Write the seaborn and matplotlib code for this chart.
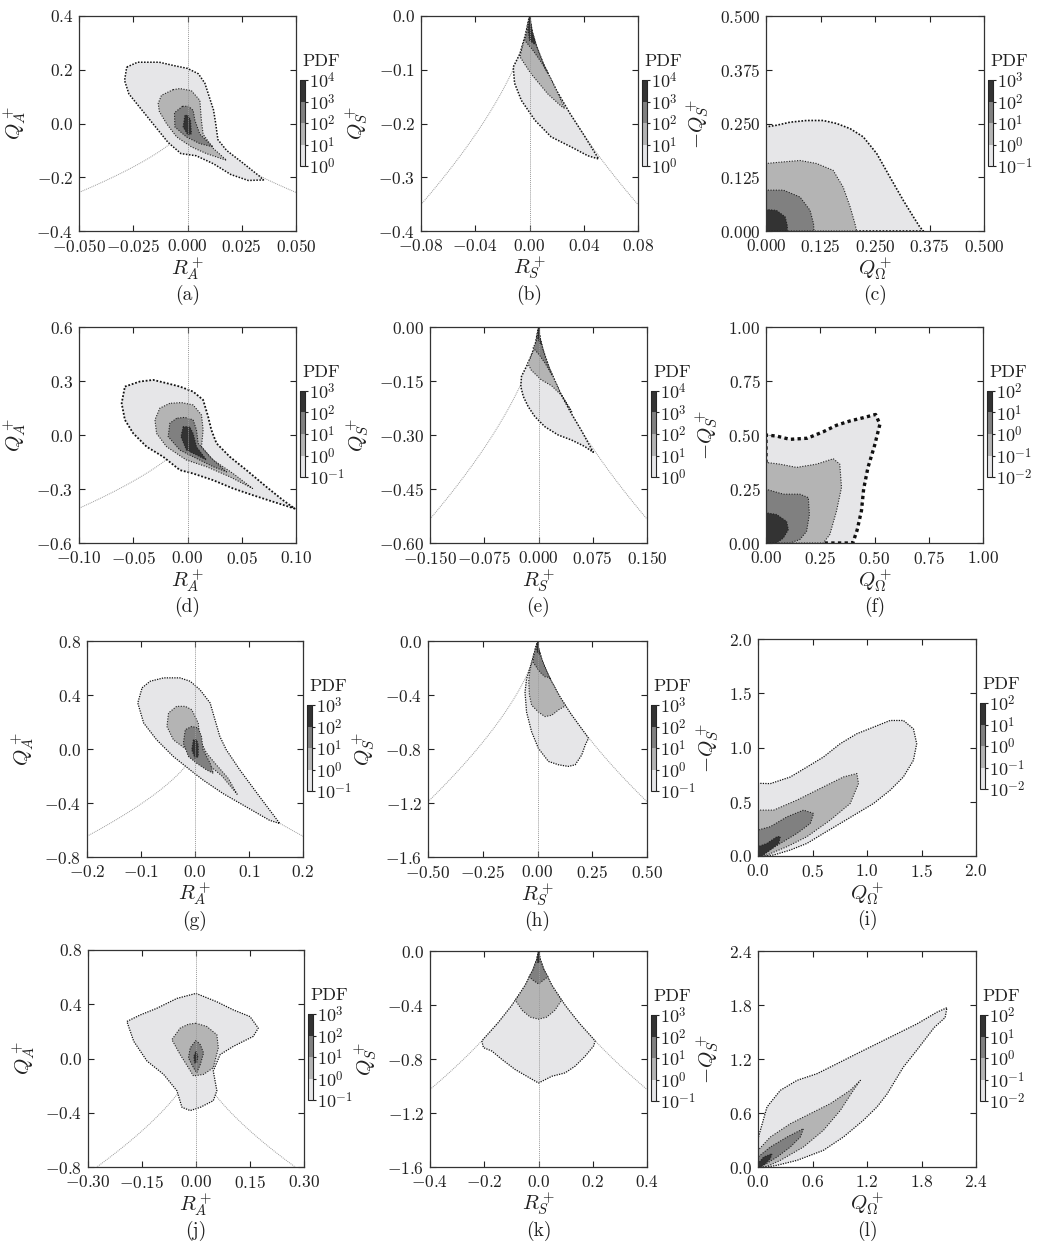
import numpy as np
import matplotlib
matplotlib.use("Agg")
import matplotlib.pyplot as plt
from matplotlib.colors import ListedColormap, BoundaryNorm
from matplotlib.cm import ScalarMappable
import seaborn as sns

# ---- contour outlines: (x, y) vertices, one list per PDF band ----
# (a) Q_A - R_A, bands 10^0..10^4
a_b1 = [(-0.028, 0.21), (-0.023, 0.228), (-0.013, 0.228), (-0.006, 0.215), (0.0, 0.205), (0.005, 0.185),
        (0.008, 0.15), (0.010, 0.10), (0.012, 0.05), (0.013, 0.0), (0.014, -0.06), (0.018, -0.10),
        (0.026, -0.15), (0.033, -0.195), (0.035, -0.21), (0.028, -0.212), (0.020, -0.19), (0.012, -0.15),
        (0.004, -0.12), (-0.003, -0.112), (-0.009, -0.07), (-0.016, 0.0), (-0.022, 0.06), (-0.027, 0.11),
        (-0.029, 0.16)]
a_b2 = [(-0.0066, 0.126), (-0.012, 0.105), (-0.0135, 0.075), (-0.013, 0.045), (-0.0097, 0.0), (-0.005, -0.05),
        (0.0018, -0.087), (0.0087, -0.112), (0.018, -0.137), (0.0118, -0.092), (0.0072, -0.04), (0.0064, 0.012),
        (0.0057, 0.086), (0.0018, 0.122), (-0.0035, 0.13)]
a_b3 = [(-0.0023, 0.064), (-0.006, 0.04), (-0.0058, -0.013), (-0.0005, -0.05), (0.0057, -0.075), (0.0118, -0.087),
        (0.0057, -0.04), (0.0034, 0.012), (0.0026, 0.049), (0.0005, 0.064)]
a_b4 = [(-0.0012, 0.03), (-0.002, -0.013), (0.0003, -0.044), (0.0018, -0.038), (0.0014, 0.012), (0.0003, 0.03)]

# (b) Q_S - R_S
b_b1 = [(0.0, 0.0), (-0.003, -0.035), (-0.007, -0.07), (-0.012, -0.095), (-0.011, -0.125), (-0.006, -0.157),
        (0.004, -0.194), (0.016, -0.225), (0.031, -0.244), (0.043, -0.26), (0.051, -0.266), (0.040, -0.221),
        (0.030, -0.182), (0.020, -0.139), (0.010, -0.088), (0.005, -0.055), (0.002, -0.03)]
b_b2 = [(0.0, 0.0), (-0.003, -0.035), (-0.006, -0.065), (-0.007, -0.076), (0.001, -0.107), (0.0135, -0.145),
        (0.0235, -0.168), (0.026, -0.172), (0.020, -0.139), (0.010, -0.088), (0.005, -0.055), (0.002, -0.03)]
b_b3 = [(0.0, 0.0), (-0.002, -0.03), (-0.0036, -0.045), (0.0026, -0.064), (0.0087, -0.086), (0.0136, -0.107),
        (0.010, -0.088), (0.005, -0.055), (0.002, -0.03)]
b_b4 = [(0.0, 0.0), (-0.001, -0.025), (0.0, -0.045), (0.004, -0.053), (0.004, -0.048), (0.002, -0.03),
        (0.0005, -0.01)]

# (c) -Q_S - Q_W
c_b1 = [(0, 0), (0, 0.242), (0.0245, 0.246), (0.055, 0.253), (0.093, 0.257), (0.131, 0.257), (0.162, 0.25),
        (0.193, 0.238), (0.223, 0.219), (0.254, 0.18), (0.284, 0.126), (0.315, 0.071), (0.338, 0.033),
        (0.353, 0.009), (0.361, 0)]
c_b2 = [(0, 0), (0, 0.157), (0.032, 0.16), (0.078, 0.164), (0.116, 0.157), (0.154, 0.141), (0.177, 0.102),
        (0.193, 0.056), (0.204, 0.017), (0.208, 0)]
c_b3 = [(0, 0), (0, 0.095), (0.04, 0.095), (0.078, 0.079), (0.101, 0.048), (0.109, 0.017), (0.11, 0)]
c_b4 = [(0, 0), (0, 0.05), (0.024, 0.048), (0.044, 0.033), (0.049, 0.012), (0.049, 0)]

# (d)
d_b1 = [(-0.0577, 0.269), (-0.044, 0.297), (-0.0316, 0.306), (-0.0193, 0.288), (-0.007, 0.269), (0.0052, 0.241),
        (0.0144, 0.195), (0.019, 0.102), (0.022, 0.028), (0.0267, -0.046), (0.039, -0.121), (0.0543, -0.195),
        (0.0727, -0.288), (0.088, -0.362), (0.0988, -0.409), (0.079, -0.371), (0.06, -0.334), (0.042, -0.297),
        (0.0236, -0.251), (0.0052, -0.214), (-0.007, -0.195), (-0.0224, -0.121), (-0.0377, -0.065),
        (-0.05, 0.009), (-0.0577, 0.084), (-0.0607, 0.176)]
d_b2 = [(-0.0163, 0.176), (-0.0255, 0.149), (-0.03, 0.084), (-0.0285, 0.009), (-0.0193, -0.065), (-0.001, -0.139),
        (0.0175, -0.176), (0.039, -0.232), (0.06, -0.297), (0.042, -0.214), (0.0236, -0.139), (0.0129, -0.065),
        (0.0144, 0.028), (0.0129, 0.111), (0.0052, 0.167), (-0.0055, 0.18)]
d_b3 = [(-0.01, 0.093), (-0.0163, 0.065), (-0.0178, -0.009), (-0.007, -0.084), (0.0113, -0.139), (0.0236, -0.176),
        (0.036, -0.205), (0.0205, -0.121), (0.0098, -0.046), (0.0083, 0.028), (0.0052, 0.084), (-0.0025, 0.098)]
d_b4 = [(-0.004, 0.046), (-0.006, -0.009), (-0.001, -0.084), (0.0083, -0.111), (0.0175, -0.139), (0.0083, -0.065),
        (0.0052, 0.009), (0.002, 0.046)]

# (e)
e_b1 = [(0, 0), (-0.005, -0.054), (-0.0143, -0.1), (-0.0235, -0.137), (-0.0245, -0.165), (-0.021, -0.193),
        (-0.0143, -0.221), (-0.005, -0.249), (0.0088, -0.277), (0.0272, -0.3), (0.0457, -0.314), (0.064, -0.332),
        (0.0757, -0.348), (0.06, -0.29), (0.045, -0.239), (0.03, -0.1825), (0.015, -0.115), (0.006, -0.062),
        (0.002, -0.03)]
e_b2 = [(0, 0), (-0.004, -0.05), (-0.012, -0.09), (-0.015, -0.1), (-0.01, -0.12), (0.004, -0.147), (0.018, -0.163),
        (0.032, -0.19), (0.046, -0.235), (0.03, -0.1825), (0.015, -0.115), (0.006, -0.062), (0.002, -0.03)]
e_b3 = [(0, 0), (-0.003, -0.04), (-0.0075, -0.058), (0.0, -0.075), (0.009, -0.1), (0.019, -0.135), (0.012, -0.1),
        (0.006, -0.062), (0.002, -0.03)]
e_b4 = [(0, 0), (-0.001, -0.03), (0.002, -0.045), (0.004, -0.048), (0.002, -0.03)]

# (f)
f_b1 = [(0, 0), (0, 0.5), (0.049, 0.495), (0.11, 0.48), (0.19, 0.485), (0.264, 0.515), (0.325, 0.545),
        (0.387, 0.565), (0.448, 0.58), (0.505, 0.595), (0.525, 0.55), (0.5, 0.45), (0.47, 0.35), (0.45, 0.25),
        (0.44, 0.15), (0.42, 0.06), (0.4, 0)]
f_b2 = [(0, 0), (0, 0.373), (0.064, 0.365), (0.141, 0.35), (0.233, 0.365), (0.31, 0.39), (0.34, 0.365),
        (0.348, 0.257), (0.325, 0.148), (0.294, 0.039), (0.264, 0)]
f_b3 = [(0, 0), (0, 0.249), (0.08, 0.226), (0.156, 0.226), (0.195, 0.21), (0.2, 0.132), (0.187, 0.054),
        (0.156, 0.016), (0.11, 0)]
f_b4 = [(0, 0), (0, 0.14), (0.049, 0.132), (0.095, 0.1), (0.103, 0.062), (0.08, 0.023), (0.049, 0)]

# (g)
g_b1 = [(-0.098, 0.453), (-0.083, 0.502), (-0.058, 0.527), (-0.028, 0.527), (-0.009, 0.502), (0.009, 0.44),
        (0.028, 0.341), (0.037, 0.217), (0.046, 0.093), (0.058, -0.006), (0.083, -0.155), (0.12, -0.355),
        (0.157, -0.552), (0.138, -0.528), (0.095, -0.429), (0.052, -0.33), (0.015, -0.23), (-0.009, -0.155),
        (-0.04, -0.056), (-0.071, 0.068), (-0.095, 0.192), (-0.106, 0.341)]
g_b2 = [(-0.034, 0.316), (-0.049, 0.267), (-0.052, 0.167), (-0.04, 0.068), (-0.015, -0.006), (0.0215, -0.105),
        (0.05, -0.2), (0.078, -0.335), (0.062, -0.22), (0.038, -0.11), (0.0215, -0.031), (0.009, 0.068),
        (0.006, 0.192), (-0.006, 0.291), (-0.018, 0.316)]
g_b3 = [(-0.006, 0.167), (-0.018, 0.143), (-0.0215, 0.043), (-0.012, -0.056), (0.003, -0.105), (0.0215, -0.155),
        (0.034, -0.18), (0.028, -0.105), (0.015, -0.006), (0.012, 0.093), (0.006, 0.155)]
g_b4 = [(-0.003, 0.068), (-0.006, -0.006), (0.0, -0.068), (0.006, -0.056), (0.006, 0.031), (0.003, 0.068)]

# (h)
h_b1 = [(0, 0), (-0.027, -0.159), (-0.05, -0.28), (-0.057, -0.38), (-0.05, -0.526), (-0.027, -0.672),
        (0.004, -0.795), (0.05, -0.892), (0.096, -0.917), (0.141, -0.929), (0.172, -0.917), (0.202, -0.844),
        (0.218, -0.77), (0.233, -0.72), (0.2, -0.646), (0.15, -0.534), (0.1, -0.407), (0.05, -0.257),
        (0.02, -0.139), (0.005, -0.055)]
h_b2 = [(0, 0), (-0.02, -0.12), (-0.035, -0.22), (-0.04, -0.3), (-0.037, -0.4), (-0.027, -0.475), (0.004, -0.526),
        (0.034, -0.56), (0.065, -0.55), (0.096, -0.51), (0.128, -0.48), (0.1, -0.407), (0.05, -0.257),
        (0.02, -0.139), (0.005, -0.055)]
h_b3 = [(0, 0), (-0.01, -0.06), (-0.018, -0.12), (-0.019, -0.16), (0.011, -0.23), (0.034, -0.265), (0.055, -0.27),
        (0.06, -0.285), (0.03, -0.1825), (0.01, -0.088), (0.003, -0.04)]
h_b4 = [(0, 0), (-0.004, -0.04), (-0.002, -0.08), (0.008, -0.1), (0.01, -0.088), (0.004, -0.05)]

# (i)
i_b1 = [(0, 0), (0, 0.67), (0.113, 0.667), (0.296, 0.728), (0.449, 0.82), (0.6, 0.912), (0.754, 1.035),
        (0.907, 1.127), (1.06, 1.188), (1.212, 1.249), (1.334, 1.249), (1.426, 1.172), (1.456, 1.035),
        (1.426, 0.882), (1.334, 0.729), (1.212, 0.606), (1.06, 0.484), (0.907, 0.392), (0.754, 0.3),
        (0.6, 0.208), (0.449, 0.116), (0.296, 0.055), (0.144, 0.009), (0.052, 0)]
i_b2 = [(0, 0), (0, 0.423), (0.144, 0.423), (0.357, 0.515), (0.6, 0.637), (0.785, 0.729), (0.907, 0.76),
        (0.922, 0.668), (0.846, 0.484), (0.663, 0.331), (0.449, 0.178), (0.266, 0.086), (0.082, 0.009)]
i_b3 = [(0, 0), (0, 0.239), (0.113, 0.27), (0.266, 0.361), (0.418, 0.423), (0.51, 0.392), (0.48, 0.3),
        (0.357, 0.208), (0.205, 0.116), (0.082, 0.04), (0.02, 0)]
i_b4 = [(0, 0), (0, 0.086), (0.082, 0.116), (0.174, 0.178), (0.205, 0.178), (0.19, 0.116), (0.113, 0.055),
        (0.037, 0)]

# (j)
j_b1 = [(0, 0.48), (0.058, 0.418), (0.104, 0.358), (0.15, 0.309), (0.173, 0.224), (0.159, 0.163), (0.104, 0.09),
        (0.067, 0.029), (0.048, -0.092), (0.058, -0.238), (0.048, -0.311), (0.012, -0.36), (-0.016, -0.384),
        (-0.039, -0.36), (-0.053, -0.238), (-0.09, -0.117), (-0.136, -0.019), (-0.173, 0.127), (-0.192, 0.273),
        (-0.155, 0.321), (-0.109, 0.37), (-0.053, 0.443)]
j_b2 = [(0, 0.26), (0.03, 0.236), (0.058, 0.175), (0.062, 0.078), (0.048, -0.068), (0.021, -0.117),
        (-0.007, -0.129), (-0.021, -0.068), (-0.044, 0.029), (-0.067, 0.139), (-0.044, 0.224), (-0.021, 0.253)]
j_b3 = [(0, 0.134), (0.012, 0.102), (0.021, 0.041), (0.012, -0.044), (0.002, -0.105), (-0.007, -0.068),
        (-0.021, 0.005), (-0.016, 0.078)]
j_b4 = [(0, 0.054), (0.005, 0.017), (0.002, -0.032), (-0.004, -0.032), (-0.006, 0.017)]

# (k)
k_b1 = [(0, 0), (0.005, -0.055), (0.02, -0.139), (0.05, -0.257), (0.1, -0.407), (0.15, -0.534), (0.209, -0.666),
        (0.203, -0.704), (0.172, -0.779), (0.135, -0.853), (0.098, -0.903), (0.049, -0.928), (0.0, -0.978),
        (-0.043, -0.928), (-0.086, -0.878), (-0.135, -0.803), (-0.172, -0.741), (-0.203, -0.716),
        (-0.209, -0.666), (-0.15, -0.534), (-0.1, -0.407), (-0.05, -0.257), (-0.02, -0.139), (-0.005, -0.055)]
k_b2 = [(0, 0), (0.005, -0.055), (0.02, -0.139), (0.05, -0.257), (0.085, -0.365), (0.06, -0.44), (0.03, -0.49),
        (0.0, -0.505), (-0.03, -0.49), (-0.06, -0.44), (-0.085, -0.365), (-0.05, -0.257), (-0.02, -0.139),
        (-0.005, -0.055)]
k_b3 = [(0, 0), (0.005, -0.055), (0.02, -0.139), (0.035, -0.19), (0.022, -0.21), (0.0, -0.244), (-0.018, -0.22),
        (-0.035, -0.19), (-0.02, -0.139), (-0.005, -0.055)]
k_b4 = [(0, 0), (0.005, -0.045), (0.004, -0.08), (0.0, -0.09), (-0.004, -0.08), (-0.005, -0.045)]

# (l)
l_b1 = [(0, 0), (0, 0.315), (0.099, 0.667), (0.246, 0.852), (0.43, 0.963), (0.65, 1.037), (0.87, 1.148),
        (1.09, 1.26), (1.31, 1.37), (1.53, 1.48), (1.75, 1.59), (1.97, 1.72), (2.08, 1.77), (2.06, 1.66),
        (1.94, 1.55), (1.75, 1.3), (1.6, 1.11), (1.42, 0.81), (1.31, 0.667), (1.16, 0.519), (0.94, 0.333),
        (0.72, 0.185), (0.43, 0.074), (0.21, 0.019), (0.1, 0)]
l_b2 = [(0, 0), (0, 0.185), (0.136, 0.333), (0.356, 0.481), (0.576, 0.593), (0.796, 0.704), (1.016, 0.852),
        (1.127, 0.963), (1.05, 0.852), (0.907, 0.63), (0.72, 0.407), (0.5, 0.222), (0.246, 0.074), (0.1, 0.007)]
l_b3 = [(0, 0), (0, 0.111), (0.136, 0.222), (0.32, 0.333), (0.5, 0.426), (0.466, 0.333), (0.356, 0.222),
        (0.21, 0.111), (0.062, 0.019)]
l_b4 = [(0, 0), (0, 0.037), (0.062, 0.111), (0.154, 0.148), (0.136, 0.093), (0.081, 0.037), (0.026, 0)]

# ---- axis ticks and colorbar exponents ----
a_xticks = [-0.05, -0.025, 0.0, 0.025, 0.05]
a_yticks = [-0.4, -0.2, 0.0, 0.2, 0.4]
b_xticks = [-0.08, -0.04, 0.0, 0.04, 0.08]
b_yticks = [-0.4, -0.3, -0.2, -0.1, 0.0]
c_ticks = [0.0, 0.125, 0.25, 0.375, 0.5]
d_xticks = [-0.1, -0.05, 0.0, 0.05, 0.1]
d_yticks = [-0.6, -0.3, 0.0, 0.3, 0.6]
e_xticks = [-0.15, -0.075, 0.0, 0.075, 0.15]
e_yticks = [-0.6, -0.45, -0.3, -0.15, 0.0]
f_ticks = [0.0, 0.25, 0.5, 0.75, 1.0]
g_xticks = [-0.2, -0.1, 0.0, 0.1, 0.2]
g_yticks = [-0.8, -0.4, 0.0, 0.4, 0.8]
h_xticks = [-0.5, -0.25, 0.0, 0.25, 0.5]
h_yticks = [-1.6, -1.2, -0.8, -0.4, 0.0]
i_ticks = [0.0, 0.5, 1.0, 1.5, 2.0]
j_xticks = [-0.3, -0.15, 0.0, 0.15, 0.3]
j_yticks = [-0.8, -0.4, 0.0, 0.4, 0.8]
k_xticks = [-0.4, -0.2, 0.0, 0.2, 0.4]
k_yticks = [-1.6, -1.2, -0.8, -0.4, 0.0]
l_ticks = [0.0, 0.6, 1.2, 1.8, 2.4]

pdf_lowest_exp = {'a': 0, 'b': 0, 'c': -1, 'd': -1, 'e': 0, 'f': -2,
                  'g': -1, 'h': -1, 'i': -2, 'j': -1, 'k': -1, 'l': -2}

band_colors = ['#e6e6e8', '#b4b4b4', '#808080', '#333333']

labels = {
    'A': (r'$R_A^+$', r'$Q_A^+$'),
    'S': (r'$R_S^+$', r'$Q_S^+$'),
    'W': (r'$Q_\Omega^+$', r'$-Q_S^+$'),
}

# width of the (noisy) outermost contour edge in each panel
edge_lw = {'a': 1.1, 'b': 1.1, 'c': 1.2, 'd': 1.3, 'e': 1.1, 'f': 2.4,
           'g': 0.9, 'h': 0.9, 'i': 0.9, 'j': 0.9, 'k': 0.9, 'l': 0.9}

# tag, kind, bands, xticks, yticks, x decimals, y decimals, pixel box (l, t, r, b)
panels = [
    ('a', 'A', [a_b1, a_b2, a_b3, a_b4], a_xticks, a_yticks, 3, 1, (79, 16, 296, 231)),
    ('b', 'S', [b_b1, b_b2, b_b3, b_b4], b_xticks, b_yticks, 2, 1, (421, 16, 638, 231)),
    ('c', 'W', [c_b1, c_b2, c_b3, c_b4], c_ticks, c_ticks, 3, 3, (766, 16, 984, 231)),
    ('d', 'A', [d_b1, d_b2, d_b3, d_b4], d_xticks, d_yticks, 2, 1, (79, 327, 296, 543)),
    ('e', 'S', [e_b1, e_b2, e_b3, e_b4], e_xticks, e_yticks, 3, 2, (430, 327, 647, 543)),
    ('f', 'W', [f_b1, f_b2, f_b3, f_b4], f_ticks, f_ticks, 2, 2, (766, 327, 983, 543)),
    ('g', 'A', [g_b1, g_b2, g_b3, g_b4], g_xticks, g_yticks, 1, 1, (87, 641, 303, 857)),
    ('h', 'S', [h_b1, h_b2, h_b3, h_b4], h_xticks, h_yticks, 2, 1, (428, 641, 647, 857)),
    ('i', 'W', [i_b1, i_b2, i_b3, i_b4], i_ticks, i_ticks, 1, 1, (758, 639, 976, 856)),
    ('j', 'A', [j_b1, j_b2, j_b3, j_b4], j_xticks, j_yticks, 2, 1, (88, 950, 304, 1167)),
    ('k', 'S', [k_b1, k_b2, k_b3, k_b4], k_xticks, k_yticks, 1, 1, (430, 951, 647, 1167)),
    ('l', 'W', [l_b1, l_b2, l_b3, l_b4], l_ticks, l_ticks, 1, 1, (758, 951, 976, 1167)),
]

sns.set_theme(style='ticks')
plt.rcParams['font.family'] = ['serif']
plt.rcParams['font.serif'] = ['cmr10', 'DejaVu Serif']
plt.rcParams['mathtext.fontset'] = 'cm'
plt.rcParams['axes.formatter.use_mathtext'] = True
plt.rcParams['axes.unicode_minus'] = True

W, H = 1037, 1246
fig = plt.figure(figsize=(W / 100, H / 100), dpi=100)
fig.patch.set_facecolor('white')

cmap = ListedColormap(band_colors)
norm = BoundaryNorm([0, 1, 2, 3, 4], 4)


def fmt(v, d):
    return '$%.*f$' % (d, v)


for tag, kind, bands, xt, yt, xd, yd, (l, t, r, b) in panels:
    ax = fig.add_axes([l / W, 1 - b / H, (r - l) / W, (b - t) / H])
    ax.set_facecolor('white')
    x0, x1 = xt[0], xt[-1]
    y0, y1 = yt[0], yt[-1]

    if kind in ('A', 'S'):
        rr = np.linspace(x0, x1, 600)
        qq = -(27.0 / 4.0 * rr ** 2) ** (1.0 / 3.0)
        ax.plot(rr, qq, color='#9a9a9a', lw=0.7, ls=(0, (1, 1)), zorder=1)

    for i, poly in enumerate(bands):
        xs = [p[0] for p in poly] + [poly[0][0]]
        ys = [p[1] for p in poly] + [poly[0][1]]
        ax.fill(xs, ys, color=band_colors[i], lw=0, zorder=2 + i)
        if i == 0:
            sns.lineplot(x=xs, y=ys, sort=False, estimator=None, ax=ax, color='#111111',
                         lw=edge_lw[tag], linestyle=(0, (1, 1)), zorder=2.5 + i)
        else:
            sns.lineplot(x=xs, y=ys, sort=False, estimator=None, ax=ax, color='#222222',
                         lw=0.8, linestyle=(0, (1, 1.4)), zorder=2.5 + i)

    if kind in ('A', 'S'):
        ax.axvline(0.0, color='#9a9a9a', lw=0.7, ls=(0, (1, 1)), zorder=7)

    ax.set_xlim(x0, x1)
    ax.set_ylim(y0, y1)
    ax.set_xticks(xt)
    ax.set_yticks(yt)
    ax.set_xticklabels([fmt(v, xd) for v in xt])
    ax.set_yticklabels([fmt(v, yd) for v in yt])
    ax.tick_params(direction='in', top=True, right=True, length=4, width=0.8,
                   labelsize=12.5, colors='#222222')
    ax.tick_params(axis='x', pad=5)
    ax.tick_params(axis='y', pad=4)
    for s in ax.spines.values():
        s.set_linewidth(0.9)
        s.set_color('#333333')
        s.set_zorder(8)
    xl, yl = labels[kind]
    ax.set_xlabel(xl, fontsize=15, labelpad=0, color='#222222')
    ax.set_ylabel(yl, fontsize=15, labelpad=6, color='#222222')

    # colour bar
    cb_l = r + 4
    cb_t = t + 64
    cax = fig.add_axes([cb_l / W, 1 - (cb_t + 86) / H, 5 / W, 86 / H])
    cb = fig.colorbar(ScalarMappable(norm=norm, cmap=cmap), cax=cax, ticks=[0, 1, 2, 3, 4])
    lo = pdf_lowest_exp[tag]
    cb.ax.set_yticklabels([r'$10^{%d}$' % e for e in range(lo, lo + 5)])
    cb.outline.set_linewidth(0.8)
    cax.tick_params(direction='out', length=2, width=0.8, labelsize=13, pad=1, colors='#222222')
    fig.text((cb_l + 2) / W, 1 - (cb_t - 19) / H, 'PDF', fontsize=13, ha='left', va='center',
             color='#222222')

    fig.text((l + r) / 2 / W, 1 - (b + 64) / H, '(%s)' % tag, fontsize=14, ha='center', va='center',
             color='#222222')

fig.savefig('out.png', dpi=100, facecolor='white')
